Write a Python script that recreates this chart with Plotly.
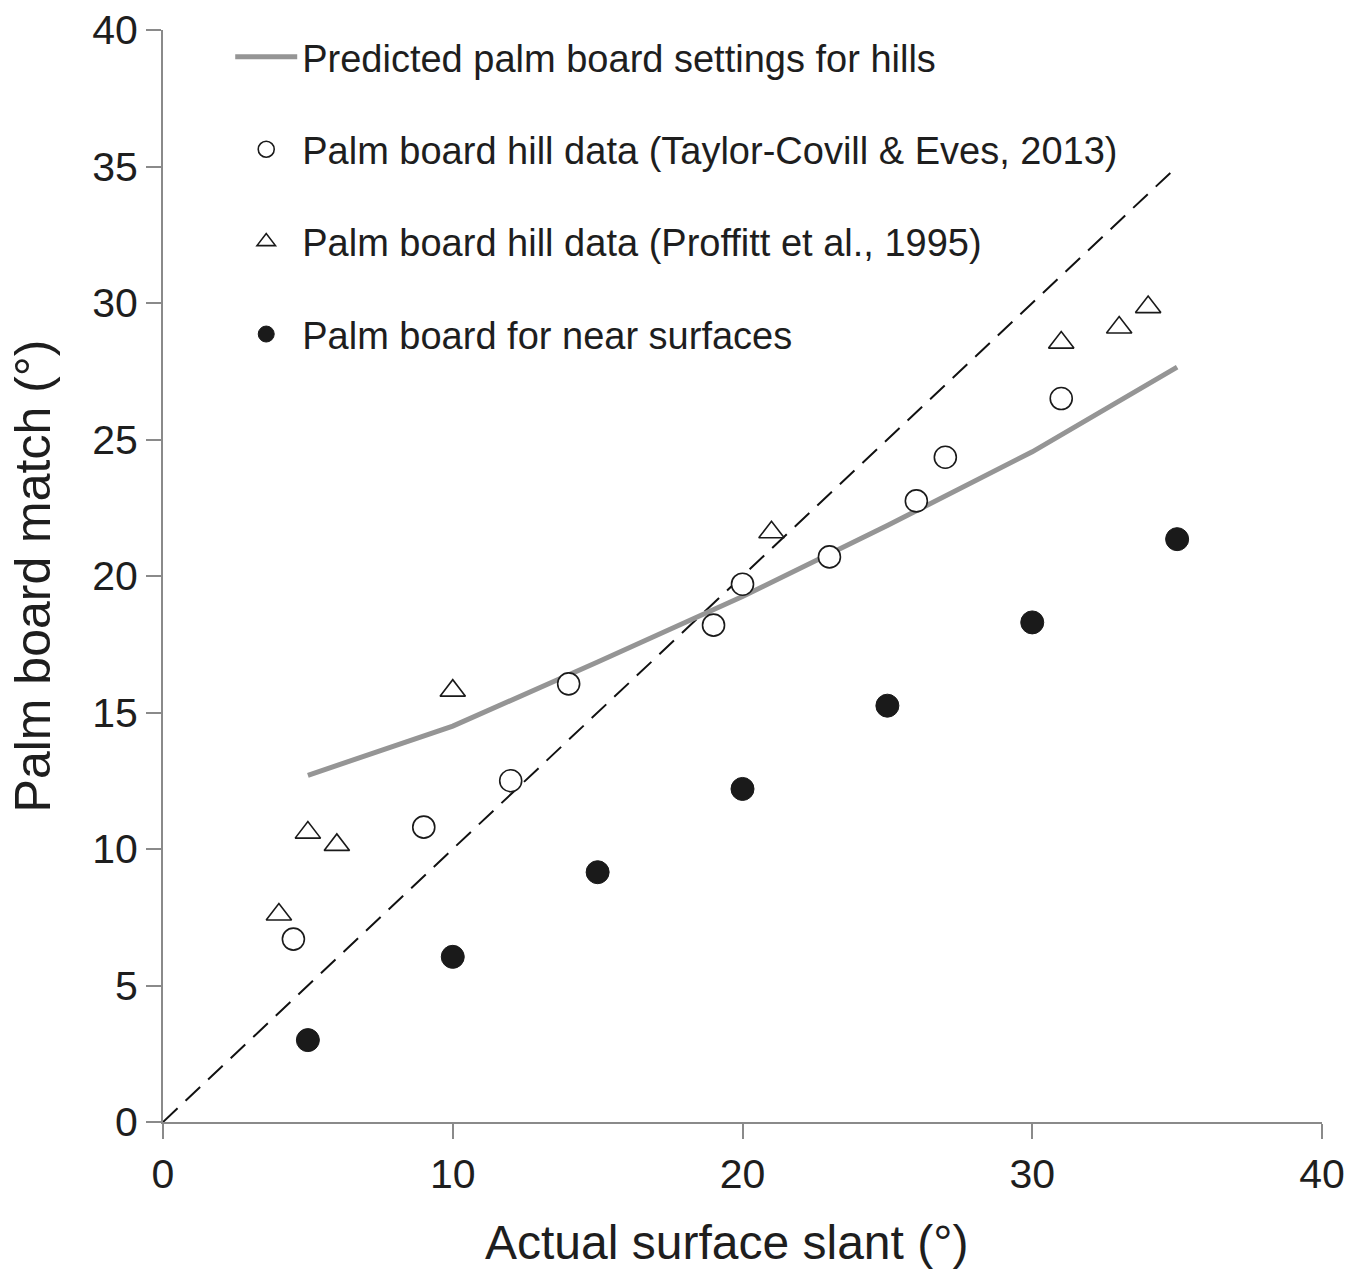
import plotly.graph_objects as go

# Data
pred_x = [5, 10, 15, 20, 25, 30, 35]
pred_y = [12.7, 14.5, 16.85, 19.25, 21.85, 24.55, 27.65]

tc_x = [4.5, 9, 12, 14, 19, 20, 23, 26, 27, 31]
tc_y = [6.7, 10.8, 12.5, 16.05, 18.2, 19.7, 20.7, 22.75, 24.35, 26.5]

pr_x = [4, 5, 6, 10, 21, 31, 33, 34]
pr_y = [7.6, 10.6, 10.15, 15.8, 21.6, 28.55, 29.1, 29.85]

near_x = [5, 10, 15, 20, 25, 30, 35]
near_y = [3.0, 6.05, 9.15, 12.2, 15.25, 18.3, 21.35]

ident_x = [0, 35]
ident_y = [0, 35]

ticks = [0, 5, 10, 15, 20, 25, 30, 35, 40]
xticks = [0, 10, 20, 30, 40]

FONT = "Liberation Sans, Arial, Helvetica, sans-serif"
TXT = "#1e1e1e"
AX = "#8a8a8a"

fig = go.Figure()

fig.add_trace(go.Scatter(
    x=ident_x, y=ident_y, mode="lines",
    line=dict(color="#111111", width=2, dash="20px,11px"),
    showlegend=False, hoverinfo="skip"))

fig.add_trace(go.Scatter(
    x=pred_x, y=pred_y, mode="lines",
    line=dict(color="#959595", width=5),
    name="Predicted palm board settings for hills", legendgroup="a"))

fig.add_trace(go.Scatter(
    x=tc_x, y=tc_y, mode="markers",
    marker=dict(symbol="circle", size=22, color="white",
                line=dict(color="#1a1a1a", width=1.6)),
    name="Palm board hill data (Taylor-Covill & Eves, 2013)", legendgroup="b"))

fig.add_trace(go.Scatter(
    x=pr_x, y=pr_y, mode="markers",
    marker=dict(symbol="triangle-up", size=22, color="white",
                line=dict(color="#1a1a1a", width=1.6)),
    name="Palm board hill data (Proffitt et al., 1995)", legendgroup="c"))

fig.add_trace(go.Scatter(
    x=near_x, y=near_y, mode="markers",
    marker=dict(symbol="circle", size=23, color="#1a1a1a",
                line=dict(color="#1a1a1a", width=1)),
    name="Palm board for near surfaces", legendgroup="d"))

axis_common = dict(
    range=[0, 40], showgrid=False, zeroline=False, automargin=False,
    showline=True, linecolor=AX, linewidth=2,
    ticks="outside", ticklen=15, tickwidth=2, tickcolor=AX,
    tickfont=dict(family=FONT, size=41, color=TXT),
)

fig.update_layout(
    width=1369, height=1273,
    margin=dict(l=163, r=47, t=30, b=151),
    paper_bgcolor="white", plot_bgcolor="white",
    font=dict(family=FONT, color=TXT),
    xaxis=dict(**axis_common, tickvals=xticks),
    yaxis=dict(**axis_common, tickvals=ticks,
               title=dict(text="Palm board match (°)",
                          font=dict(family=FONT, size=50, color=TXT), standoff=26)),
    legend=dict(
        x=0.058, y=1.004, xanchor="left", yanchor="top",
        font=dict(family=FONT, size=38, color=TXT),
        bgcolor="rgba(0,0,0,0)", borderwidth=0,
        itemwidth=62, tracegroupgap=40,
    ),
    annotations=[dict(
        text="Actual surface slant (°)", xref="paper", yref="paper",
        x=(726 - 163) / 1159, y=-(1260 - 1122) / 1092,
        xanchor="center", yanchor="bottom", showarrow=False,
        font=dict(family=FONT, size=48, color=TXT), yshift=-11,
    )],
)

fig.write_html("out.html",
               config={"displayModeBar": False},
               post_script="document.body.style.margin='0px';")
